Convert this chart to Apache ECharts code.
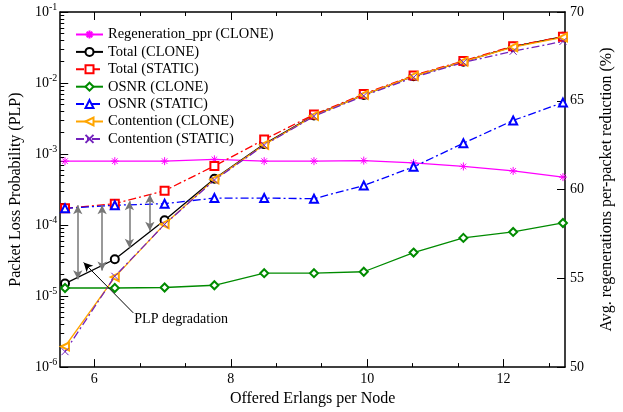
<!DOCTYPE html>
<html>
<head>
<meta charset="utf-8">
<script src="https://cdn.jsdelivr.net/npm/echarts@6/dist/echarts.min.js"></script>
<style>
  html, body {margin: 0; padding: 0; background: #fff;}
  #main {width: 623px; height: 412px;}
</style>
</head>
<body>
<div id="main"></div>
<script>
var erlangs = [5.57, 6.3, 7.03, 7.76, 8.49, 9.22, 9.95, 10.68, 11.41, 12.14, 12.87]
var regenPpr = [61.6, 61.6, 61.6, 61.7, 61.6, 61.6, 61.63, 61.5, 61.3, 61.05, 60.7]   //右轴 %
var totalClone = [1.5e-5, 3.3e-5, 1.17e-4, 4.5e-4, 1.38e-3, 3.5e-3, 6.8e-3, 1.25e-2, 2.0e-2, 3.25e-2, 4.5e-2]
var totalStatic = [1.72e-4, 2.0e-4, 3.05e-4, 6.8e-4, 1.6e-3, 3.6e-3, 7.0e-3, 1.28e-2, 2.05e-2, 3.3e-2, 4.5e-2]
var osnrClone = [1.3e-5, 1.3e-5, 1.32e-5, 1.42e-5, 2.1e-5, 2.1e-5, 2.2e-5, 4.1e-5, 6.6e-5, 8.0e-5, 1.07e-4]
var osnrStatic = [1.72e-4, 1.9e-4, 2.0e-4, 2.4e-4, 2.4e-4, 2.35e-4, 3.6e-4, 6.6e-4, 1.42e-3, 2.97e-3, 5.3e-3]
var contClone = [1.95e-6, 1.85e-5, 1.03e-4, 4.4e-4, 1.35e-3, 3.45e-3, 6.8e-3, 1.25e-2, 2.0e-2, 3.2e-2, 4.4e-2]
var contStatic = [1.65e-6, 1.9e-5, 1.02e-4, 4.3e-4, 1.33e-3, 3.4e-3, 6.6e-3, 1.2e-2, 1.95e-2, 2.8e-2, 3.85e-2]

var xMajor = [6, 8, 10, 12]
var xMinor = [6.667, 7.333, 8.667, 9.333, 10.667, 11.333, 12.667]

/* PLP degradation 标注 */
var arrowX = [5.757, 6.114, 6.514, 6.814]
var arrowTop = [1.9e-4, 1.9e-4, 2.16e-4, 2.7e-4]
var arrowBottom = [1.72e-5, 2.3e-5, 4.8e-5, 8.3e-5]
var pointerFrom = [6.571, 5.8e-6]
var pointerTo = [5.843, 2.97e-5]
var noteAt = [6.586, 4.64e-6]
var noteText = 'PLP degradation'

var FONT = 'Liberation Serif'
var dashDot = [8, 3, 2, 3]

// 对数轴的次刻度（指数坐标）
var yMinor = []
for (var e = -6; e < -1; e++) {
  for (var k = 2; k <= 9; k++) yMinor.push(e + Math.log10(k))
}

var markPairs = []
for (var i = 0; i < arrowX.length; i++) {
  markPairs.push([
    {coord: [arrowX[i], arrowTop[i]], symbol: 'arrow'},
    {coord: [arrowX[i], arrowBottom[i]], symbol: 'arrow'}
  ])
}
markPairs.push([
  {coord: pointerFrom, symbol: 'none', lineStyle: {color: '#000', width: 1}},
  {coord: pointerTo, symbol: 'arrow'}
])

function mkSeries(name, data, color, symbol, lineType, yIdx, extra) {
  var pts = []
  for (var i = 0; i < erlangs.length; i++) pts.push([erlangs[i], data[i]])
  var s = {
    name: name,
    type: 'line',
    xAxisIndex: 0,
    yAxisIndex: yIdx,
    data: pts,
    symbol: symbol,
    symbolSize: 8,
    lineStyle: {color: color, width: 1.3, type: lineType},
    itemStyle: {color: color, borderColor: color, borderWidth: 1},
    animation: false,
    z: 3
  }
  for (var key in extra) s[key] = extra[key]
  return s
}

var asterisk = 'path://M5,0L5,10M0,5L10,5M1.5,1.5L8.5,8.5M8.5,1.5L1.5,8.5'
var cross = 'path://M0,0L10,10M10,0L0,10'

var seriesList = [
  mkSeries('Regeneration_ppr (CLONE)', regenPpr, '#ff00ff', asterisk, 'solid', 1),
  mkSeries('Total (CLONE)', totalClone, '#000000', 'emptyCircle', 'solid', 0, {
    markLine: {
      silent: true,
      animation: false,
      symbolSize: [7, 9],
      label: {show: false},
      lineStyle: {color: '#777', width: 1.5, type: 'solid'},
      data: markPairs
    },
    markPoint: {
      silent: true,
      animation: false,
      symbol: 'circle',
      symbolSize: 0,
      label: {
        show: true, position: 'right', distance: 0, formatter: noteText,
        fontFamily: FONT, fontSize: 14, color: '#000'
      },
      data: [{coord: noteAt}]
    }
  }),
  mkSeries('Total (STATIC)', totalStatic, '#ff0000', 'emptyRect', dashDot, 0),
  mkSeries('OSNR (CLONE)', osnrClone, '#008b00', 'emptyDiamond', 'solid', 0),
  mkSeries('OSNR (STATIC)', osnrStatic, '#0000ff', 'emptyTriangle', dashDot, 0),
  mkSeries('Contention (CLONE)', contClone, '#ffa500', 'emptyTriangle', 'solid', 0, {symbolRotate: 90}),
  mkSeries('Contention (STATIC)', contStatic, '#7221bc', cross, dashDot, 0, {symbolSize: 7})
]

var chart = echarts.init(document.getElementById('main'), null, {renderer: 'canvas'})
var xBase = {
  type: 'value', min: 5.5, max: 12.9, gridIndex: 0,
  splitLine: {show: false}
}
chart.setOption({
  backgroundColor: '#fff',
  animation: false,
  textStyle: {fontFamily: FONT},
  grid: {left: 57, right: 48, top: 12, bottom: 40, containLabel: false},
  legend: {
    orient: 'vertical',
    left: 70,
    top: 22,
    itemWidth: 27,
    itemHeight: 10,
    itemGap: 2.4,
    textStyle: {fontFamily: FONT, fontSize: 14.5, color: '#000', lineHeight: 14},
    data: seriesList.map(function (s) { return s.name })
  },
  xAxis: [
    echarts.util.merge({
      position: 'bottom',
      name: 'Offered Erlangs per Node', nameLocation: 'middle', nameGap: 23,
      nameTextStyle: {fontFamily: FONT, fontSize: 16, color: '#000'},
      axisLine: {lineStyle: {color: '#000', width: 1.5}},
      axisTick: {inside: true, length: 8, customValues: xMajor, lineStyle: {color: '#000'}},
      axisLabel: {customValues: xMajor, margin: 5, fontFamily: FONT, fontSize: 14, color: '#000'}
    }, xBase),
    echarts.util.merge({
      position: 'top',
      axisLine: {lineStyle: {color: '#000', width: 1.5}},
      axisTick: {inside: true, length: 8, customValues: xMajor, lineStyle: {color: '#000'}},
      axisLabel: {show: false}
    }, xBase),
    echarts.util.merge({
      position: 'bottom',
      axisLine: {show: false},
      axisTick: {inside: true, length: 4, customValues: xMinor, lineStyle: {color: '#000'}},
      axisLabel: {show: false}
    }, xBase),
    echarts.util.merge({
      position: 'top',
      axisLine: {show: false},
      axisTick: {inside: true, length: 4, customValues: xMinor, lineStyle: {color: '#000'}},
      axisLabel: {show: false}
    }, xBase)
  ],
  yAxis: [
    {
      type: 'log', logBase: 10, min: 1e-6, max: 1e-1, position: 'left',
      name: 'Packet Loss Probability (PLP)', nameLocation: 'middle', nameGap: 30,
      nameTextStyle: {fontFamily: FONT, fontSize: 16, color: '#000'},
      splitLine: {show: false},
      axisLine: {show: true, lineStyle: {color: '#000', width: 1.5}},
      axisTick: {inside: true, length: 8, lineStyle: {color: '#000'}},
      axisLabel: {
        margin: 3,
        formatter: function (v) {
          return '10{e|' + Math.round(Math.log10(v)) + '}'
        },
        fontFamily: FONT, fontSize: 14, color: '#000',
        rich: {e: {fontFamily: FONT, fontSize: 10, color: '#000', padding: [0, 0, 9, 0]}}
      }
    },
    {
      type: 'value', min: 50, max: 70, interval: 5, position: 'right',
      name: 'Avg. regenerations per-packet reduction (%)', nameLocation: 'middle', nameGap: 34,
      nameTextStyle: {fontFamily: FONT, fontSize: 16, color: '#000'},
      splitLine: {show: false},
      axisLine: {show: true, lineStyle: {color: '#000', width: 1.5}},
      axisTick: {inside: true, length: 8, lineStyle: {color: '#000'}},
      axisLabel: {margin: 5, fontFamily: FONT, fontSize: 14, color: '#000'}
    },
    {
      type: 'value', min: -6, max: -1, position: 'left',
      splitLine: {show: false},
      axisLine: {show: false},
      axisTick: {inside: true, length: 4, customValues: yMinor, lineStyle: {color: '#000'}},
      axisLabel: {show: false}
    }
  ],
  series: seriesList
})
</script>
</body>
</html>
